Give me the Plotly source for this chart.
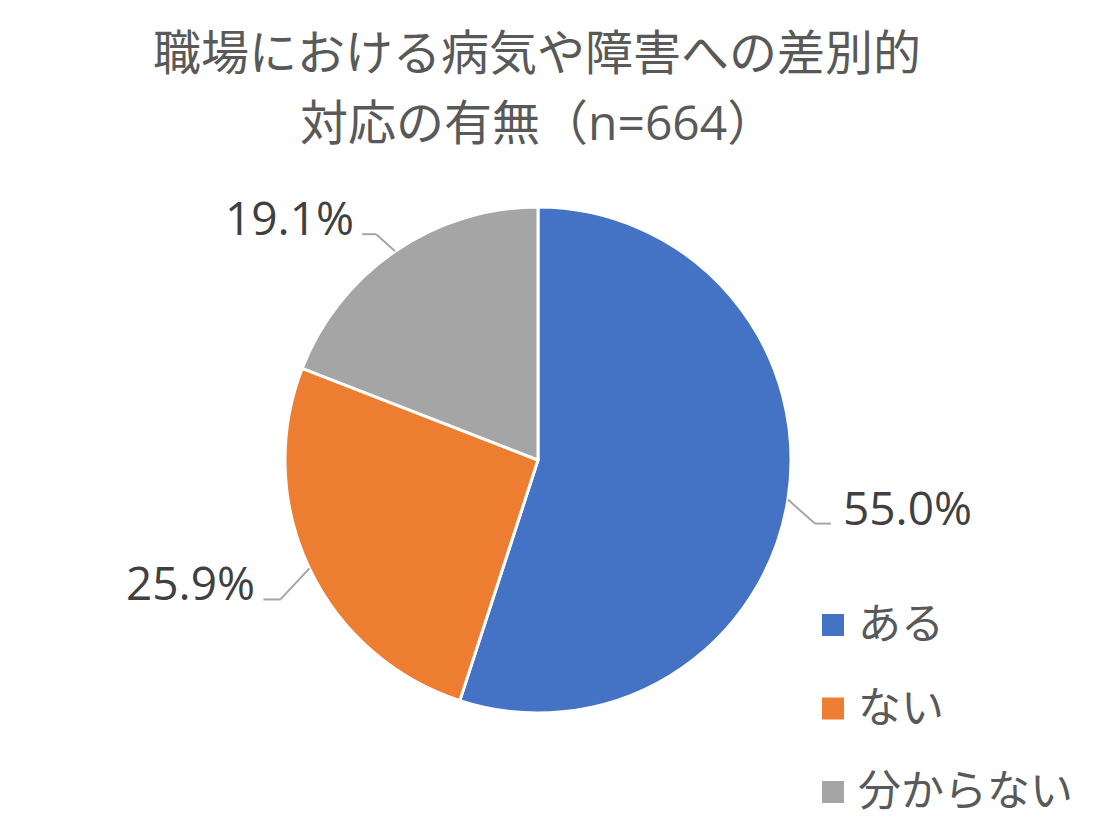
import math
import plotly.graph_objects as go

# ---- data ----
categories = ["ある", "ない", "分からない"]
values = [55.0, 25.9, 19.1]
value_labels = ["55.0%", "25.9%", "19.1%"]
colors = ["#4472C4", "#ED7D31", "#A5A5A5"]
title_lines = ["職場における病気や障害への差別的", "対応の有無（n=664）"]

# ---- layout constants (pixels, in reference-picture coordinates) ----
OFF = 8                       # page body margin
W, H = 1120 - 2 * OFF, 840 - 2 * OFF
CX, CY, R = 538, 460, 253
FONT = "Noto Sans CJK JP"
LATIN = "Open Sans, Noto Sans CJK JP"
# leader line geometry per slice: elbow dx, elbow dy, horizontal run
leader = [(27, 24, 16), (-29, 31, -17), (-19, -17, -14)]


def px(x):
    return (x - OFF) / W


def py(y):
    return 1 - (y - OFF) / H


fig = go.Figure(
    go.Pie(
        labels=categories,
        values=values,
        sort=False,
        direction="clockwise",
        rotation=0,
        marker=dict(colors=colors, line=dict(color="white", width=3)),
        textinfo="none",
        hoverinfo="label+percent",
        showlegend=False,
        domain=dict(x=[px(CX - R), px(CX + R)], y=[py(CY + R), py(CY - R)]),
    )
)

shapes = []
annotations = []
total = sum(values)
cum = 0.0
for i, v in enumerate(values):
    mid = (cum + v / 2) / total * 2 * math.pi
    cum += v
    sx = CX + R * math.sin(mid)
    sy = CY - R * math.cos(mid)
    edx, edy, run = leader[i]
    ex, ey = sx + edx, sy + edy
    hx = ex + run
    line = dict(color="#A6A6A6", width=2)
    shapes.append(dict(type="line", xref="paper", yref="paper",
                       x0=px(sx), y0=py(sy), x1=px(ex), y1=py(ey), line=line))
    shapes.append(dict(type="line", xref="paper", yref="paper",
                       x0=px(ex), y0=py(ey), x1=px(hx), y1=py(ey), line=line))
    right = run > 0
    annotations.append(dict(
        text=value_labels[i], xref="paper", yref="paper",
        x=px(hx + (10 if right else -6)), y=py(ey - 17),
        xanchor="left" if right else "right", yanchor="middle",
        showarrow=False, font=dict(family=LATIN, size=46, color="#404040"),
    ))

# legend (manual)
for i, cat in enumerate(categories):
    yc = 625 + i * 83.5
    shapes.append(dict(type="rect", xref="paper", yref="paper",
                       x0=px(822), x1=px(844), y0=py(yc + 11), y1=py(yc - 11),
                       fillcolor=colors[i], line=dict(width=0)))
    annotations.append(dict(
        text=cat, xref="paper", yref="paper", x=px(856), y=py(yc - 5),
        xanchor="left", yanchor="middle", showarrow=False,
        font=dict(family=FONT, size=43, color="#595959"),
    ))

# title (two lines)
for j, (t, yc) in enumerate(zip(title_lines, [51, 121])):
    annotations.append(dict(
        text=t, xref="paper", yref="paper", x=px(537), y=py(yc),
        xanchor="center", yanchor="middle", showarrow=False,
        font=dict(family=LATIN, size=48, color="#595959"),
    ))

fig.update_layout(
    width=W, height=H,
    margin=dict(l=0, r=0, t=0, b=0),
    paper_bgcolor="white",
    plot_bgcolor="white",
    shapes=shapes,
    annotations=annotations,
    showlegend=False,
)

fig.write_html("out.html")
